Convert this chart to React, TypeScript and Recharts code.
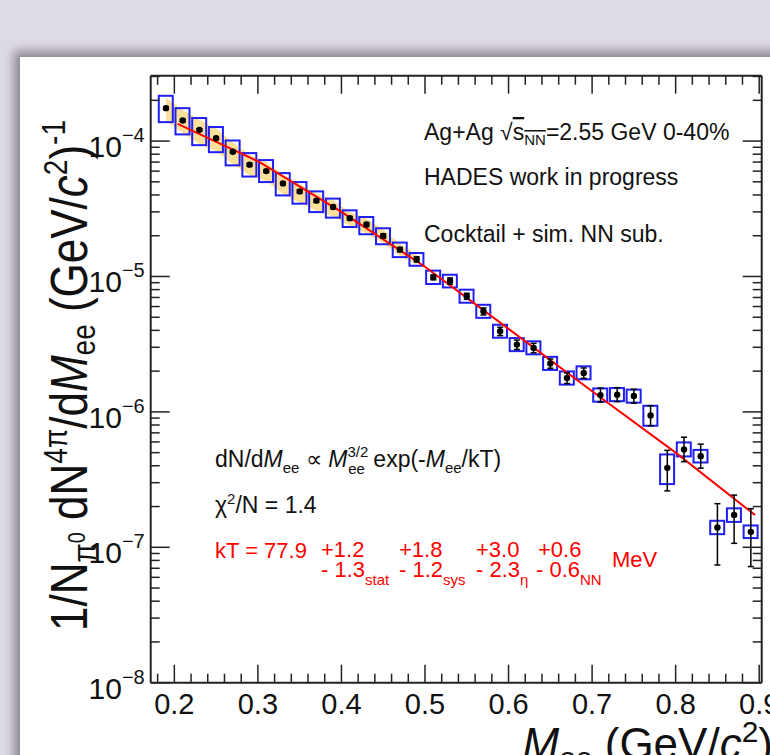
import React from "react";
import { ComposedChart, XAxis, YAxis, Bar, Area, Line, Scatter, ErrorBar } from "recharts";

// dielectron invariant mass bins (GeV/c^2)
const mass = [
  0.19, 0.21, 0.23, 0.25, 0.27, 0.29, 0.31, 0.33, 0.35, 0.37, 0.39, 0.41,
  0.43, 0.45, 0.47, 0.49, 0.51, 0.53, 0.55, 0.57, 0.59, 0.61, 0.63, 0.65,
  0.67, 0.69, 0.71, 0.73, 0.75, 0.77, 0.79, 0.81, 0.83, 0.85, 0.87, 0.89,
];

// 1/N dN/dM values
const yieldVals = [
  1.75e-4, 1.42e-4, 1.21e-4, 1.05e-4, 8.35e-5, 6.7e-5, 6.0e-5, 4.87e-5, 4.25e-5, 3.63e-5, 3.26e-5, 2.69e-5,
  2.42e-5, 1.99e-5, 1.58e-5, 1.34e-5, 9.86e-6, 9.26e-6, 7.15e-6, 5.53e-6, 3.94e-6, 3.14e-6, 2.97e-6, 2.28e-6,
  1.78e-6, 1.94e-6, 1.33e-6, 1.34e-6, 1.31e-6, 9.4e-7, 3.86e-7, 5.28e-7, 4.71e-7, 1.4e-7, 1.73e-7, 1.3e-7,
];

// statistical errors
const statUp = [
  3.5e-6, 2.8e-6, 2.4e-6, 2.1e-6, 1.7e-6, 1.4e-6, 1.3e-6, 1.1e-6, 1.0e-6, 0.9e-6, 0.8e-6, 0.8e-6,
  0.8e-6, 0.7e-6, 0.6e-6, 0.6e-6, 0.4e-6, 0.5e-6, 0.37e-6, 0.33e-6, 0.28e-6, 0.25e-6, 0.24e-6, 0.18e-6,
  0.16e-6, 0.17e-6, 0.17e-6, 0.17e-6, 0.16e-6, 0.17e-6, 1.34e-7, 1.22e-7, 1.07e-7, 0.7e-7, 0.7e-7, 0.63e-7,
];
const statDown = [
  3.5e-6, 2.8e-6, 2.4e-6, 2.1e-6, 1.7e-6, 1.4e-6, 1.3e-6, 1.1e-6, 1.0e-6, 0.9e-6, 0.8e-6, 0.8e-6,
  0.8e-6, 0.7e-6, 0.6e-6, 0.6e-6, 0.4e-6, 0.5e-6, 0.37e-6, 0.33e-6, 0.28e-6, 0.25e-6, 0.24e-6, 0.18e-6,
  0.16e-6, 0.17e-6, 0.15e-6, 0.15e-6, 0.15e-6, 0.15e-6, 1.25e-7, 0.99e-7, 0.87e-7, 0.66e-7, 0.66e-7, 0.58e-7,
];

// systematic boxes (blue)
const boxHi = [
  2.16e-4, 1.75e-4, 1.48e-4, 1.27e-4, 1.01e-4, 8.15e-5, 7.24e-5, 5.8e-5, 4.98e-5, 4.25e-5, 3.76e-5, 3.08e-5,
  2.75e-5, 2.27e-5, 1.78e-5, 1.49e-5, 1.105e-5, 1.03e-5, 7.99e-6, 6.18e-6, 4.4e-6, 3.51e-6, 3.32e-6, 2.55e-6,
  1.99e-6, 2.17e-6, 1.49e-6, 1.5e-6, 1.46e-6, 1.11e-6, 4.85e-7, 5.95e-7, 5.24e-7, 1.57e-7, 1.94e-7, 1.45e-7,
];
const boxLo = [
  1.38e-4, 1.12e-4, 9.33e-5, 8.28e-5, 6.62e-5, 5.47e-5, 4.98e-5, 3.97e-5, 3.45e-5, 2.99e-5, 2.72e-5, 2.32e-5,
  2.05e-5, 1.73e-5, 1.39e-5, 1.2e-5, 8.8e-6, 8.3e-6, 6.4e-6, 4.95e-6, 3.53e-6, 2.81e-6, 2.66e-6, 2.04e-6,
  1.59e-6, 1.74e-6, 1.19e-6, 1.2e-6, 1.17e-6, 7.9e-7, 2.93e-7, 4.69e-7, 4.23e-7, 1.25e-7, 1.54e-7, 1.17e-7,
];

// yellow band (first 16 bins)
const bandHi = [2.1e-4, 1.7e-4, 1.44e-4, 1.24e-4, 9.8e-5, 7.9e-5, 7.0e-5, 5.65e-5, 4.85e-5, 4.12e-5, 3.65e-5, 3.0e-5, 2.68e-5, 2.21e-5, 1.74e-5, 1.46e-5];
const bandLo = [1.41e-4, 1.15e-4, 9.5e-5, 8.45e-5, 6.75e-5, 5.58e-5, 5.08e-5, 4.05e-5, 3.52e-5, 3.05e-5, 2.77e-5, 2.37e-5, 2.09e-5, 1.77e-5, 1.42e-5, 1.22e-5];

// red fit curve
const fitMass = [0.204, 0.3, 0.4, 0.5, 0.6, 0.7, 0.8, 0.895];
const fitVals = [1.34e-4, 7.1e-5, 3.0e-5, 1.18e-5, 4.1e-6, 1.42e-6, 5.0e-7, 1.73e-7];

const xMajor = [0.2, 0.3, 0.4, 0.5, 0.6, 0.7, 0.8, 0.9];
const xTickLabels = ["0.2", "0.3", "0.4", "0.5", "0.6", "0.7", "0.8", "0.9"];
const yMajor = [1e-8, 1e-7, 1e-6, 1e-5, 1e-4];
const yTickExps = ["\u22128", "\u22127", "\u22126", "\u22125", "\u22124"];

const X_MIN = 0.1717;
const X_MAX = 0.903;
const Y_MIN = 1e-8;
const Y_MAX = 3.04e-4;

const FONT = "'Liberation Sans', Arial, Helvetica, sans-serif";
const AXIS = "#222";
const BLUE = "#1f1ff5";

const xTicks: number[] = [];
for (let k = 0; k <= 36; k++) xTicks.push(Math.round((0.18 + 0.02 * k) * 1000) / 1000);
const yTicks: number[] = [];
for (let e = -8; e <= -4; e++) {
  for (let m = 1; m <= 9; m++) {
    const t = m * Math.pow(10, e);
    if (t <= Y_MAX) yTicks.push(t);
  }
}

const points = mass.map((m, i) => ({
  m,
  v: yieldVals[i],
  err: [statDown[i], statUp[i]],
  box: [boxLo[i], boxHi[i]],
  band: i < bandHi.length ? [bandLo[i], bandHi[i]] : undefined,
}));
const fitData = fitMass.map((m, i) => ({ m, v: fitVals[i] }));

const xIdx = (v: number) => xMajor.findIndex((t) => Math.abs(t - v) < 1e-6);
const yIdx = (v: number) => yMajor.findIndex((t) => Math.abs(Math.log10(t) - Math.log10(v)) < 1e-6);

const BottomTick = (p: any) => {
  const i = xIdx(p.payload.value);
  return (
    <g>
      <line x1={p.x} x2={p.x} y1={p.y} y2={p.y - (i >= 0 ? 18 : 9)} stroke={AXIS} strokeWidth={1.5} />
      {i >= 0 && (
        <text x={p.x} y={p.y + 31} textAnchor="middle" fontSize={29} fontFamily={FONT} fill="#111">
          {xTickLabels[i]}
        </text>
      )}
    </g>
  );
};

const TopTick = (p: any) => {
  const i = xIdx(p.payload.value);
  return <line x1={p.x} x2={p.x} y1={p.y} y2={p.y + (i >= 0 ? 18 : 9)} stroke={AXIS} strokeWidth={1.5} />;
};

const LeftTick = (p: any) => {
  const i = yIdx(p.payload.value);
  return (
    <g>
      <line x1={p.x} x2={p.x + (i >= 0 ? 19 : 9)} y1={p.y} y2={p.y} stroke={AXIS} strokeWidth={1.5} />
      {i >= 0 && (
        <text x={p.x - 6} y={p.y + 16} textAnchor="end" fontSize={30} fontFamily={FONT} fill="#111">
          <tspan>10</tspan>
          <tspan fontSize={20} dy={-15}>{yTickExps[i]}</tspan>
        </text>
      )}
    </g>
  );
};

const RightTick = (p: any) => {
  const i = yIdx(p.payload.value);
  return <line x1={p.x} x2={p.x - (i >= 0 ? 19 : 9)} y1={p.y} y2={p.y} stroke={AXIS} strokeWidth={1.5} />;
};

const SysBox = (p: any) => {
  if (p.height == null || p.x == null) return null;
  const cx = p.x + p.width / 2;
  return <rect x={cx - 7} y={p.y} width={14} height={p.height} fill="none" stroke={BLUE} strokeWidth={2} />;
};

const DataDot = (p: any) => <circle cx={p.cx} cy={p.cy} r={3.2} fill="#000" />;

const axisLine = { stroke: AXIS, strokeWidth: 2 };

export default function App() {
  return (
    <div style={{ position: "absolute", left: 0, top: 0, width: 770, height: 755, overflow: "hidden", background: "#dfdbe5" }}>
      <div
        style={{
          position: "absolute",
          left: 20,
          top: 57,
          width: 800,
          height: 760,
          background: "#fff",
          boxShadow: "-3px -3px 10px 3px rgba(70,62,80,0.55)",
        }}
      />
      <div style={{ position: "absolute", left: 0, top: 0 }}>
        <ComposedChart width={770} height={755} data={points} margin={{ top: 45.7, right: 0, bottom: 42.3, left: 0 }}>
          <XAxis xAxisId="b" dataKey="m" type="number" orientation="bottom" domain={[X_MIN, X_MAX]} allowDataOverflow
            ticks={xTicks} interval={0} tickSize={0} tickMargin={0} tickLine={false} tick={(p: any) => <BottomTick {...p} />}
            axisLine={axisLine} height={30} />
          <XAxis xAxisId="t" dataKey="m" type="number" orientation="top" domain={[X_MIN, X_MAX]} allowDataOverflow
            ticks={xTicks} interval={0} tickSize={0} tickMargin={0} tickLine={false} tick={(p: any) => <TopTick {...p} />}
            axisLine={axisLine} height={30} />
          <YAxis yAxisId="l" type="number" scale="log" domain={[Y_MIN, Y_MAX]} allowDataOverflow
            ticks={yTicks} interval={0} tickSize={0} tickMargin={0} tickLine={false} tick={(p: any) => <LeftTick {...p} />}
            axisLine={axisLine} width={150.7} />
          <YAxis yAxisId="r" orientation="right" type="number" scale="log" domain={[Y_MIN, Y_MAX]} allowDataOverflow
            ticks={yTicks} interval={0} tickSize={0} tickMargin={0} tickLine={false} tick={(p: any) => <RightTick {...p} />}
            axisLine={axisLine} width={8.3} />
          <Area xAxisId="b" yAxisId="l" dataKey="band" type="linear" fill="#fbe09a" fillOpacity={1} stroke="none"
            isAnimationActive={false} />
          <Bar xAxisId="b" yAxisId="l" dataKey="box" barSize={14} shape={SysBox} isAnimationActive={false} />
          <Line xAxisId="b" yAxisId="l" data={fitData} dataKey="v" type="linear" stroke="#ff0000" strokeWidth={2}
            dot={false} activeDot={false} isAnimationActive={false} />
          <Scatter xAxisId="b" yAxisId="l" dataKey="v" fill="#000" shape={DataDot} isAnimationActive={false}>
            <ErrorBar dataKey="err" direction="y" width={3} stroke="#000" strokeWidth={1.5} />
          </Scatter>
        </ComposedChart>
      </div>
      <svg width={770} height={755} style={{ position: "absolute", left: 0, top: 0, pointerEvents: "none" }} fontFamily={FONT}>
        {/* y-axis title */}
        <text transform="translate(87, 631) rotate(-90) scale(1, 1.18)" fontSize={44} fill="#111">
          <tspan>1/N</tspan>
          <tspan fontSize={28} dy={8}>π</tspan>
          <tspan fontSize={20} dy={-10}>0</tspan>
          <tspan dy={2}> dN</tspan>
          <tspan fontSize={28} dy={-17}>4π</tspan>
          <tspan dy={17}>/d</tspan>
          <tspan fontStyle="italic">M</tspan>
          <tspan fontSize={28} dy={7}>ee</tspan>
          <tspan dy={-7}> (GeV/</tspan>
          <tspan fontStyle="italic">c</tspan>
          <tspan fontSize={28} dy={-17}>2</tspan>
          <tspan dy={17}>)</tspan>
          <tspan fontSize={28} dy={-19}>-1</tspan>
        </text>
        {/* x-axis title */}
        <text x={773} y={759} textAnchor="end" fontSize={44} fill="#111">
          <tspan fontStyle="italic">M</tspan>
          <tspan fontSize={30} dy={9}>ee</tspan>
          <tspan dy={-9}> (GeV/</tspan>
          <tspan fontStyle="italic">c</tspan>
          <tspan fontSize={30} dy={-17}>2</tspan>
          <tspan dy={17}>)</tspan>
        </text>
        {/* labels */}
        <g fontSize={23} fill="#111">
          <text x={424} y={140}>
            <tspan>Ag+Ag √</tspan>
            <tspan style={{ textDecoration: "overline" }}>s</tspan>
            <tspan fontSize={15} dy={5} style={{ textDecoration: "overline" }}>NN</tspan>
            <tspan dy={-5}>=2.55 GeV 0-40%</tspan>
          </text>
          <text x={424} y={185}>HADES work in progress</text>
          <text x={424} y={241.5}>Cocktail + sim. NN sub.</text>
          <text x={215} y={466.7}>
            <tspan>dN/d</tspan>
            <tspan fontStyle="italic">M</tspan>
            <tspan fontSize={15} dy={6}>ee</tspan>
            <tspan dy={-6}> ∝ </tspan>
            <tspan fontStyle="italic">M</tspan>
            <tspan fontSize={15} dy={-10}>3/2</tspan>
            <tspan fontSize={15} dx={-20} dy={17}>ee</tspan>
            <tspan dx={2} dy={-7}> exp(-</tspan>
            <tspan fontStyle="italic">M</tspan>
            <tspan fontSize={15} dy={6}>ee</tspan>
            <tspan dy={-6}>/kT)</tspan>
          </text>
          <text x={215} y={513}>
            <tspan>χ</tspan>
            <tspan fontSize={15} dy={-9}>2</tspan>
            <tspan dy={9}>/N = 1.4</tspan>
          </text>
        </g>
        <g fontSize={22} fill="#ff0000">
          <text x={215} y={558.3}>kT = 77.9</text>
          <text x={321} y={557}>+1.2</text>
          <text x={321} y={577}>
            <tspan>- 1.3</tspan>
            <tspan fontSize={15} dy={8}>stat</tspan>
          </text>
          <text x={399} y={557}>+1.8</text>
          <text x={399} y={577}>
            <tspan>- 1.2</tspan>
            <tspan fontSize={15} dy={8}>sys</tspan>
          </text>
          <text x={476} y={557}>+3.0</text>
          <text x={476} y={577}>
            <tspan>- 2.3</tspan>
            <tspan fontSize={15} dy={8}>η</tspan>
          </text>
          <text x={538} y={557}>+0.6</text>
          <text x={536} y={577}>
            <tspan>- 0.6</tspan>
            <tspan fontSize={15} dy={8}>NN</tspan>
          </text>
          <text x={612} y={566.7}>MeV</text>
        </g>
      </svg>
    </div>
  );
}
